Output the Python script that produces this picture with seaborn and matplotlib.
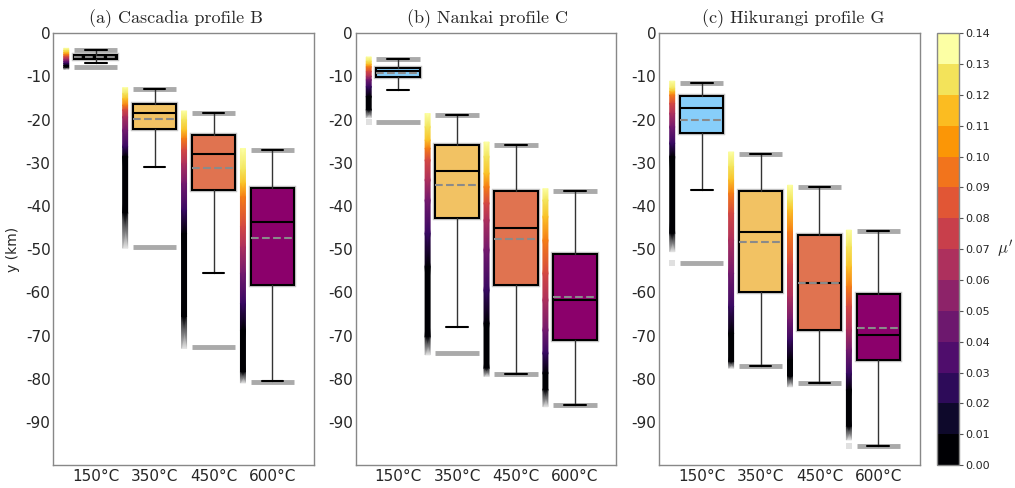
import numpy as np
import matplotlib
matplotlib.use('Agg')
import matplotlib.pyplot as plt
import seaborn as sns
from matplotlib.colors import BoundaryNorm, Normalize, LinearSegmentedColormap
from matplotlib.cm import ScalarMappable
import matplotlib.patheffects as pe

sns.set_theme(style='white')
plt.rcParams['font.family'] = ['DejaVu Sans']
plt.rcParams['mathtext.fontset'] = 'cm'

# ---------------- data ----------------
temperatures = ['150°C', '350°C', '450°C', '600°C']
profiles = ['(a) Cascadia profile B', '(b) Nankai profile C', '(c) Hikurangi profile G']
box_colors = ['#87CEFA', '#F2C263', '#E07350', '#8B006B']
y_ticks = [0, -10, -20, -30, -40, -50, -60, -70, -80, -90]
cbar_ticks = [0.00, 0.01, 0.02, 0.03, 0.04, 0.05, 0.06, 0.07, 0.08, 0.09, 0.10, 0.11, 0.12, 0.13, 0.14]

# box statistics (km) per temperature
cascadia_max = [-4.0, -13.0, -18.5, -27.1]
cascadia_q3 = [-5.0, -16.4, -23.6, -35.9]
cascadia_median = [-5.5, -18.5, -27.9, -43.7]
cascadia_mean = [-5.4, -19.8, -31.2, -47.4]
cascadia_q1 = [-6.0, -22.1, -36.4, -58.2]
cascadia_whislo = [-6.9, -30.9, -55.6, -80.6]
cascadia_min = [-7.9, -49.5, -72.7, -80.7]

nankai_max = [-5.9, -18.9, -25.9, -36.5]
nankai_q3 = [-8.0, -26.0, -36.5, -51.1]
nankai_median = [-8.8, -31.9, -45.1, -61.8]
nankai_mean = [-9.2, -35.2, -47.6, -61.1]
nankai_q1 = [-10.1, -42.7, -58.4, -71.1]
nankai_whislo = [-13.2, -68.1, -79.0, -86.0]
nankai_min = [-20.6, -74.0, -79.0, -86.0]

hikurangi_max = [-11.6, -27.9, -35.5, -45.9]
hikurangi_q3 = [-14.5, -36.6, -46.7, -60.3]
hikurangi_median = [-17.4, -46.0, -57.8, -69.8]
hikurangi_mean = [-20.0, -48.4, -57.8, -68.3]
hikurangi_q1 = [-23.2, -60.0, -68.8, -75.7]
hikurangi_whislo = [-36.4, -77.1, -81.1, -95.7]
hikurangi_min = [-53.2, -77.1, -81.1, -95.7]

# mu' strips: depth (km) at which each friction level is reached
strip_levels = [0.14, 0.13, 0.12, 0.10, 0.08, 0.065, 0.045, 0.025, 0.0, 0.0]
cascadia_strip = [
    [-3.5, -4.0, -4.5, -5.0, -5.5, -6.0, -6.5, -7.0, -7.5, -8.0],
    [-12.6, -14.0, -15.2, -16.7, -17.8, -19.4, -22.5, -26.3, -28.6, -41.7],
    [-18.0, -20.1, -22.5, -24.4, -27.1, -30.2, -34.8, -41.0, -46.4, -65.7],
    [-26.7, -31.7, -34.8, -37.9, -44.8, -49.5, -55.6, -62.6, -68.8, -78.5],
]
cascadia_fade = [-8.4, -49.8, -73.0, -81.0]
cascadia_outlier = [None, None, None, None]

nankai_strip = [
    [-5.5, -6.5, -7.2, -7.8, -8.9, -10.0, -10.8, -12.4, -14.7, -17.8],
    [-18.6, -21.7, -24.8, -26.7, -29.4, -34.0, -38.7, -46.4, -54.1, -70.3],
    [-25.2, -28.6, -32.5, -35.6, -39.4, -43.3, -50.2, -59.5, -67.2, -77.6],
    [-36.0, -38.7, -42.5, -48.0, -55.6, -61.8, -68.75, -74.1, -78.7, -82.6],
]
nankai_fade = [-19.6, -74.5, -79.5, -86.5]
nankai_outlier = [-20.5, None, None, None]

hikurangi_strip = [
    [-11.1, -12.8, -13.5, -14.35, -16.3, -18.6, -21.7, -25.5, -28.6, -46.4],
    [-27.5, -30.9, -34.0, -37.1, -41.7, -47.9, -55.6, -63.3, -69.5, -76.1],
    [-35.2, -38.7, -41.0, -46.0, -53.5, -61.0, -66.4, -71.1, -75.7, -79.5],
    [-45.6, -49.5, -54.1, -58.7, -63.3, -68.75, -73.4, -78.8, -82.6, -91.1],
]
hikurangi_fade = [-50.6, -77.6, -81.9, -94.2]
hikurangi_outlier = [-53.2, None, None, -95.7]

panels = [
    dict(mx=cascadia_max, q3=cascadia_q3, med=cascadia_median, mean=cascadia_mean,
         q1=cascadia_q1, lo=cascadia_whislo, mn=cascadia_min,
         strip=cascadia_strip, fade=cascadia_fade, out=cascadia_outlier),
    dict(mx=nankai_max, q3=nankai_q3, med=nankai_median, mean=nankai_mean,
         q1=nankai_q1, lo=nankai_whislo, mn=nankai_min,
         strip=nankai_strip, fade=nankai_fade, out=nankai_outlier),
    dict(mx=hikurangi_max, q3=hikurangi_q3, med=hikurangi_median, mean=hikurangi_mean,
         q1=hikurangi_q1, lo=hikurangi_whislo, mn=hikurangi_min,
         strip=hikurangi_strip, fade=hikurangi_fade, out=hikurangi_outlier),
]

# ---------------- figure ----------------
fig = plt.figure(figsize=(10.15, 4.88), dpi=100)
ax_lefts = [0.0525, 0.3505, 0.6495]
ax_w = 0.2565
ax_b, ax_h = 0.047, 0.885
title_x = [0.47, 0.505, 0.515]

inferno = plt.get_cmap('inferno')
mu_norm = Normalize(0.0, 0.14)
fade_cmap = LinearSegmentedColormap.from_list('fade', ['#000004', '#e6e6e6'])

box_w = 0.74
strip_off = -0.5
strip_w = 0.085

for pi, (title, P) in enumerate(zip(profiles, panels)):
    ax = fig.add_axes([ax_lefts[pi], ax_b, ax_w, ax_h])
    positions = list(range(len(temperatures)))

    stats = []
    for i in positions:
        stats.append(dict(med=P['med'][i], q1=P['q1'][i], q3=P['q3'][i],
                          whislo=P['lo'][i], whishi=P['mx'][i], mean=P['mean'][i],
                          fliers=[]))
    bp = ax.bxp(stats, positions=positions, widths=box_w, capwidths=box_w / 2,
                patch_artist=True, showmeans=True, meanline=True,
                showfliers=False, zorder=3,
                boxprops=dict(edgecolor='black', linewidth=1.5),
                medianprops=dict(color='black', linewidth=1.5),
                meanprops=dict(color='#8a8a8a', linestyle='--', linewidth=1.5),
                whiskerprops=dict(color='#333333', linewidth=1.0),
                capprops=dict(color='black', linewidth=1.5))
    for patch, c in zip(bp['boxes'], box_colors):
        patch.set_facecolor(c)
        patch.set_path_effects([pe.Stroke(linewidth=3.2, foreground='#c8c8c8'), pe.Normal()])

    # range bars (min/max)
    for i in positions:
        for yv in (P['mx'][i], P['mn'][i]):
            ax.hlines(yv, i - box_w / 2, i + box_w / 2, color='#aaaaaa',
                      linewidth=3.5, zorder=2.5)

    # mu' strips
    for i in positions:
        xs = np.array([i + strip_off - strip_w / 2, i + strip_off + strip_w / 2])
        ys = np.array(P['strip'][i])
        X, Y = np.meshgrid(xs, ys)
        C = np.repeat(np.array(strip_levels)[:, None], 2, axis=1)
        ax.pcolormesh(X, Y, C, cmap=inferno, norm=mu_norm, shading='gouraud', zorder=2)
        yf = np.array([P['strip'][i][-1], P['fade'][i]])
        Xf, Yf = np.meshgrid(xs, yf)
        Cf = np.array([[0.0, 0.0], [1.0, 1.0]])
        ax.pcolormesh(Xf, Yf, Cf, cmap=fade_cmap, vmin=0, vmax=1, shading='gouraud', zorder=2)
        if P['out'][i] is not None:
            ax.scatter([i + strip_off], [P['out'][i]], marker='s', s=22,
                       color='#e0e0e0', linewidths=0, zorder=2)

    ax.set_xlim(-0.72, 3.70)
    ax.set_ylim(-100, 0)
    ax.set_xticks(positions)
    ax.set_xticklabels(temperatures, fontsize=11)
    ax.set_yticks(y_ticks)
    ax.set_yticklabels([str(v) for v in y_ticks], fontsize=11)
    ax.tick_params(axis='both', length=0)
    ax.tick_params(axis='y', pad=2)
    ax.tick_params(axis='x', pad=3)
    for sp in ax.spines.values():
        sp.set_color('#888888')
        sp.set_linewidth(1.0)
    ax.set_title(title, fontfamily='cmr10', fontsize=13, pad=7, x=title_x[pi])
    if pi == 0:
        ax.set_ylabel('y (km)', fontsize=10, labelpad=4)

# colorbar
cax = fig.add_axes([0.923, ax_b, 0.0217, ax_h])
cmap14 = plt.get_cmap('inferno', 14)
bnorm = BoundaryNorm(np.linspace(0, 0.14, 15), 14)
sm = ScalarMappable(norm=bnorm, cmap=cmap14)
cb = fig.colorbar(sm, cax=cax, ticks=cbar_ticks, format='%.2f')
cb.outline.set_edgecolor('#888888')
cb.outline.set_linewidth(1.0)
cax.tick_params(right=True, length=3, width=0.8, labelsize=8, pad=1.5, color='#555555')
cax.set_ylabel("$\\mu'$", rotation=0, fontsize=12, labelpad=11, va='center')

fig.savefig('out.png', dpi=100)
